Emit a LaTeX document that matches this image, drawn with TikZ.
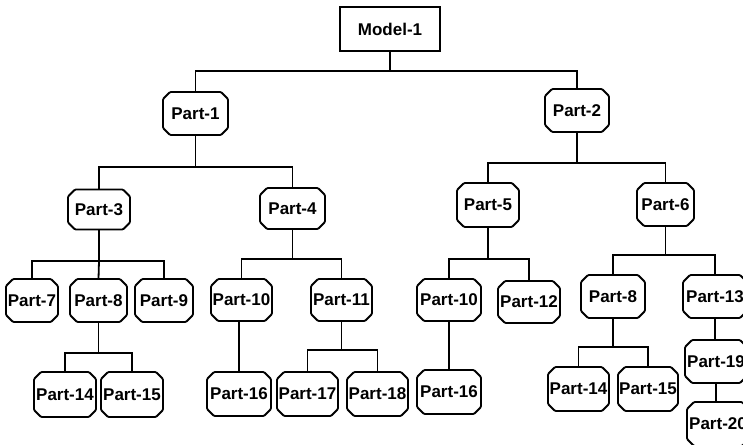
\documentclass[tikz,border=0pt]{standalone}
\usepackage{fontspec}
\setmainfont{Liberation Sans}
\newcommand{\fixlabel}[1]{\makebox[0pt]{#1}}
\begin{document}
\begin{tikzpicture}[x=1pt,y=-1pt,
  part/.style={rectangle, inner sep=0pt, outer sep=0pt, font=\bfseries\fontsize{17}{17}\selectfont},
  outline/.style={draw, line width=1.8pt, rounded corners=1pt},
  top/.style={draw, line width=1.8pt, rectangle, inner sep=0pt, outer sep=0pt, font=\bfseries\fontsize{17}{17}\selectfont},
  link/.style={line width=1.8pt}]
\clip (0,0) rectangle (743,444);
\fill[white] (0,0) rectangle (743,444);
% level 0
\node[top, minimum width=100pt, minimum height=44pt] (m) at (390,29) {Model-1};
% level 1
\node[part, minimum width=65pt, minimum height=43pt] (p1) at (195.5,113.5) {\fixlabel{Part-1}};
\node[part, minimum width=64pt, minimum height=43pt] (p2) at (577,110.5) {\fixlabel{Part-2}};
% level 2
\node[part, minimum width=62pt, minimum height=40pt] (p3) at (99,209.5) {\fixlabel{Part-3}};
\node[part, minimum width=65pt, minimum height=41pt] (p4) at (292.5,208.5) {\fixlabel{Part-4}};
\node[part, minimum width=62pt, minimum height=44pt] (p5) at (488,205) {\fixlabel{Part-5}};
\node[part, minimum width=57pt, minimum height=43pt] (p6) at (665.5,204.5) {\fixlabel{Part-6}};
% level 3
\node[part, minimum width=52pt, minimum height=43pt] (p7) at (32,300.5) {\fixlabel{Part-7}};
\node[part, minimum width=57pt, minimum height=43pt] (p8) at (98.5,300.5) {\fixlabel{Part-8}};
\node[part, minimum width=58pt, minimum height=43pt] (p9) at (164,300.5) {\fixlabel{Part-9}};
\node[part, minimum width=61pt, minimum height=42pt] (p10) at (241.5,300) {\fixlabel{Part-10}};
\node[part, minimum width=61pt, minimum height=42pt] (p11) at (341.5,300) {\fixlabel{Part-11}};
\node[part, minimum width=64pt, minimum height=42pt] (p10b) at (449,300) {\fixlabel{Part-10}};
\node[part, minimum width=62pt, minimum height=42pt] (p12) at (529,302) {\fixlabel{Part-12}};
\node[part, minimum width=64pt, minimum height=43pt] (p8b) at (613,296.5) {\fixlabel{Part-8}};
\node[part, minimum width=64pt, minimum height=43pt] (p13) at (715,296.5) {\fixlabel{Part-13}};
% level 4
\node[part, minimum width=62pt, minimum height=45pt] (p14) at (65,394.5) {\fixlabel{Part-14}};
\node[part, minimum width=62pt, minimum height=45pt] (p15) at (132,394.5) {\fixlabel{Part-15}};
\node[part, minimum width=64pt, minimum height=44pt] (p16) at (239,394) {\fixlabel{Part-16}};
\node[part, minimum width=61pt, minimum height=44pt] (p17) at (307.5,394) {\fixlabel{Part-17}};
\node[part, minimum width=61pt, minimum height=44pt] (p18) at (377.5,394) {\fixlabel{Part-18}};
\node[part, minimum width=64pt, minimum height=44pt] (p16b) at (449,392) {\fixlabel{Part-16}};
\node[part, minimum width=61pt, minimum height=44pt] (p14b) at (578.5,389) {\fixlabel{Part-14}};
\node[part, minimum width=60pt, minimum height=44pt] (p15b) at (648,389) {\fixlabel{Part-15}};
\node[part, minimum width=62pt, minimum height=43pt] (p19) at (716,361.5) {\fixlabel{Part-19}};
\node[part, minimum width=62pt, minimum height=44pt] (p20) at (718,424) {\fixlabel{Part-20}};
% chamfered outlines
\foreach \n in {p1,p2,p3,p4,p5,p6,p7,p8,p9,p10,p11,p10b,p12,p8b,p13,p14,p15,p16,p17,p18,p16b,p14b,p15b,p19,p20}
  \draw[outline] ([xshift=7pt]\n.north west) -- ([xshift=-7pt]\n.north east)
    -- ([yshift=-7pt]\n.north east) -- ([yshift=7pt]\n.south east)
    -- ([xshift=-7pt]\n.south east) -- ([xshift=7pt]\n.south west)
    -- ([yshift=7pt]\n.south west) -- ([yshift=-7pt]\n.north west) -- cycle;
% connectors
\draw[link] (m.south) -- (m.south |- 0,71) coordinate (bm) -| (p1.north);
\draw[link] (bm) -| (p2.north);
\draw[link] (p1.south) -- (p1.south |- 0,167) coordinate (b1) -| (p3.north);
\draw[link] (b1) -| (p4.north);
\draw[link] (p2.south) -- (p2.south |- 0,163) coordinate (b2) -| (p5.north);
\draw[link] (b2) -| (p6.north);
\draw[link] (p3.south) -- (p3.south |- 0,261) coordinate (b3) -| (p7.north);
\draw[link] (b3) -- (p8.north);
\draw[link] (b3) -| (p9.north);
\draw[link] (p8.south) -- (p8.south |- 0,353) coordinate (b8) -| (p14.north);
\draw[link] (b8) -| (p15.north);
\draw[link] (p4.south) -- (p4.south |- 0,259) coordinate (b4) -| (p10.north);
\draw[link] (b4) -| (p11.north);
\draw[link] (p16.north |- p10.south) -- (p16.north);
\draw[link] (p11.south) -- (p11.south |- 0,350) coordinate (b11) -| (p17.north);
\draw[link] (b11) -| (p18.north);
\draw[link] (p5.south) -- (p5.south |- 0,259) coordinate (b5) -| (p10b.north);
\draw[link] (b5) -| (p12.north);
\draw[link] (p10b.south) -- (p16b.north);
\draw[link] (p6.south) -- (p6.south |- 0,255) coordinate (b6) -| (p8b.north);
\draw[link] (b6) -| (p13.north);
\draw[link] (p8b.south) -- (p8b.south |- 0,347) coordinate (b8b) -| (p14b.north);
\draw[link] (b8b) -| (p15b.north);
\draw[link] (p13.south) -- (p13.south |- p19.north);
\draw[link] (p19.south) -- (p19.south |- p20.north);
\end{tikzpicture}
\end{document}
